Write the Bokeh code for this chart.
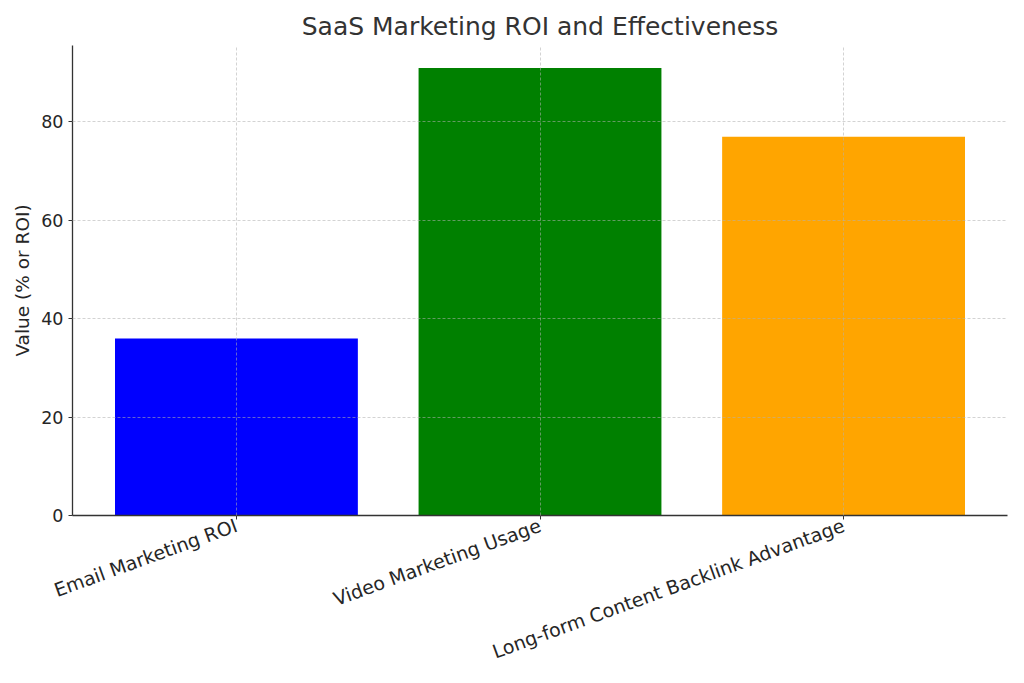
import math
from bokeh.plotting import figure
from bokeh.models import Range1d, FixedTicker
from bokeh.embed import file_html
from bokeh.resources import INLINE

categories = ["Email Marketing ROI", "Video Marketing Usage", "Long-form Content Backlink Advantage"]
values = [36, 91, 77]
colors = ["blue", "green", "orange"]
y_ticks = [0, 20, 40, 60, 80]

xs = list(range(len(categories)))

p = figure(width=1024, height=683, output_backend="svg", toolbar_location=None,
           x_range=Range1d(-0.54, 2.54), y_range=Range1d(0, max(values) * 1.05),
           min_border_left=72, min_border_right=17, min_border_top=45, min_border_bottom=168)

p.title.text = "SaaS Marketing ROI and Effectiveness"
p.title.align = "center"
p.title.text_font = "DejaVu Sans"
p.title.text_font_size = "25px"
p.title.text_font_style = "normal"
p.title.text_color = "#333333"

p.vbar(x=xs, top=values, width=0.8, color=colors, line_color=None)

p.xaxis.ticker = FixedTicker(ticks=xs)
p.xaxis.major_label_overrides = {i: c for i, c in enumerate(categories)}
p.xaxis.major_label_orientation = math.radians(20)
p.yaxis.ticker = FixedTicker(ticks=y_ticks)
p.yaxis.axis_label = "Value (% or ROI)"

for ax in (p.xaxis, p.yaxis):
    ax.major_label_text_font = "DejaVu Sans"
    ax.major_label_text_color = "#262626"
    ax.axis_label_text_font = "DejaVu Sans"
    ax.axis_label_text_font_style = "normal"
    ax.axis_label_text_color = "#262626"
    ax.axis_line_color = "#333333"
    ax.axis_line_width = 1.3
    ax.major_tick_line_color = "#333333"
    ax.major_tick_in = 0
    ax.major_tick_out = 4
    ax.minor_tick_line_color = None
p.xaxis.major_label_text_font_size = "19px"
p.yaxis.major_label_text_font_size = "17.5px"
p.yaxis.axis_label_text_font_size = "18.5px"

p.outline_line_color = None
for g in (p.xgrid, p.ygrid):
    g.grid_line_color = "#b0b0b0"
    g.grid_line_alpha = 0.7
    g.grid_line_dash = "3 2"
    g.grid_line_width = 0.8
    g.level = "overlay"
p.xgrid.ticker = FixedTicker(ticks=xs)
p.ygrid.ticker = FixedTicker(ticks=y_ticks)

open("out.html", "w").write(file_html(p, INLINE))
